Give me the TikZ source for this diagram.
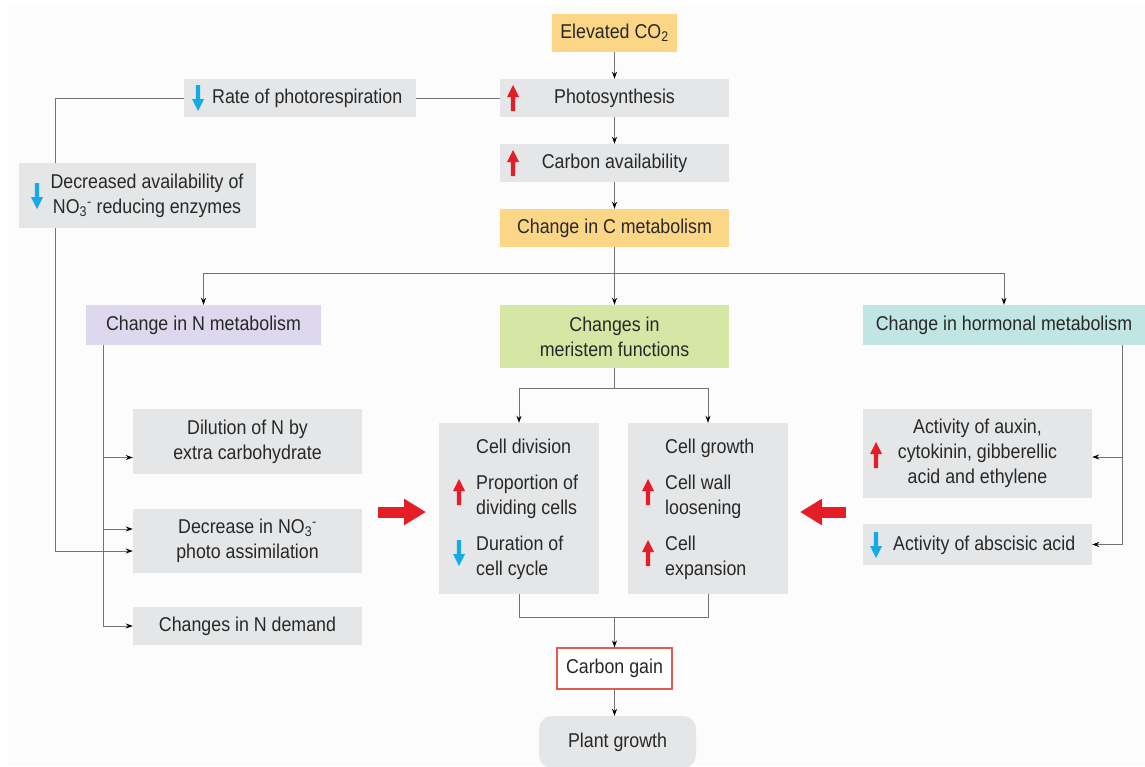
\documentclass[tikz,border=0pt]{standalone}
\usepackage{fontspec}
\setmainfont{Liberation Sans}[FakeStretch=0.89]
\usetikzlibrary{arrows.meta}
\definecolor{inkgray}{RGB}{40,40,40}
\definecolor{linegray}{RGB}{115,115,115}
\definecolor{boxgray}{RGB}{229,230,231}
\definecolor{boxorange}{RGB}{252,214,135}
\definecolor{boxlilac}{RGB}{222,216,238}
\definecolor{boxgreen}{RGB}{214,231,165}
\definecolor{boxteal}{RGB}{193,229,226}
\definecolor{gainred}{RGB}{228,90,78}
\definecolor{arrowred}{RGB}{228,30,38}
\definecolor{arrowblue}{RGB}{20,170,230}
\definecolor{paper}{RGB}{252,252,252}
\begin{document}
\begin{tikzpicture}[x=1pt, y=-1pt,
    font=\fontsize{20}{25}\selectfont,
    every node/.style={text=inkgray},
    box/.style={fill=boxgray, inner sep=0pt, align=center, minimum width=229pt, minimum height=38pt},
    conn/.style={draw=linegray, line width=0.9pt},
    arr/.style={conn, -{Stealth[length=7pt, width=5pt, color=black]}},
    bigarr/.style={draw=arrowred, line width=11pt, -{Triangle[length=22pt, width=25pt]}},
    uptick/.pic={\fill[arrowred] (-2.2,13) -- (-2.2,-1) -- (-6,-1) -- (0,-13) -- (6,-1) -- (2.2,-1) -- (2.2,13) -- cycle;},
    downtick/.pic={\fill[arrowblue] (-2.2,-13) -- (-2.2,1) -- (-6,1) -- (0,13) -- (6,1) -- (2.2,1) -- (2.2,-13) -- cycle;}]
\useasboundingbox (0,0) rectangle (1145,766);
\fill[white] (0,0) rectangle (1145,766);
\fill[paper] (8,5) rectangle (1145,766); %page
% main column
\node[box, fill=boxorange, minimum width=125pt] (co2) at (614.5,33) {Elevated CO\textsubscript{2}};
\node[box] (photo) at (614.5,98) {Photosynthesis};
\node[box] (carb) at (614.5,163) {Carbon availability};
\node[box, fill=boxorange] (cmet) at (614.5,228) {Change in C metabolism};
\pic at (513,98) {uptick};
\pic at (513,163) {uptick};
% photorespiration loop
\node[box, minimum width=232pt] (resp) at (300,98) {};
\node[anchor=west, inner sep=0pt] (respt) at (212,98) {Rate of photorespiration};
\pic at (198,98) {downtick};
\node[box, minimum width=237pt, minimum height=65pt] (nored) at (137.5,195.5) {};
\node[align=center, inner sep=0pt] (noredt) at (147,196) {Decreased availability of\\NO\textsubscript{3}\textsuperscript{-} reducing enzymes};
\pic at (37,196) {downtick};
% second row
\node[box, fill=boxlilac, minimum width=235pt, minimum height=40pt] (nmet) at (203.5,325) {Change in N metabolism};
\node[box, fill=boxgreen, minimum height=63pt] (meri) at (614.5,336.5) {Changes in\\meristem functions};
\node[box, fill=boxteal, minimum width=282pt, minimum height=40pt] (hmet) at (1004,325) {Change in hormonal metabolism};
% N metabolism
\node[box, minimum height=65pt] (dil) at (247.5,441.5) {Dilution of N by\\extra carbohydrate};
\node[box, minimum height=64pt] (dec) at (247.5,541) {Decrease in NO\textsubscript{3}\textsuperscript{-}\\photo assimilation};
\node[box] (ndem) at (247.5,626) {Changes in N demand};
% meristem
\node[box, minimum width=160pt, minimum height=171pt] (cdiv) at (519,508.5) {};
\node[box, minimum width=160pt, minimum height=171pt] (cgro) at (708,508.5) {};
\node[anchor=base west, inner sep=0pt] (cdivh) at (476,453) {Cell division};
\node[anchor=west, align=left, inner sep=0pt] (cdiva) at (476,497) {Proportion of\\dividing cells};
\node[anchor=west, align=left, inner sep=0pt] (cdivb) at (476,558) {Duration of\\cell cycle};
\node[anchor=base west, inner sep=0pt] (cgroh) at (665,453) {Cell growth};
\node[anchor=west, align=left, inner sep=0pt] (cgroa) at (665,497) {Cell wall\\loosening};
\node[anchor=west, align=left, inner sep=0pt] (cgrob) at (665,558) {Cell\\expansion};
\pic at (459,492) {uptick};
\pic at (459,553) {downtick};
\pic at (648,492) {uptick};
\pic at (648,553) {uptick};
% hormones
\node[box, minimum height=89pt] (aux) at (977.5,453.5) {Activity of auxin,\\cytokinin, gibberellic\\acid and ethylene};
\node[box, minimum height=41pt] (aba) at (977.5,544.5) {};
\node[anchor=west, inner sep=0pt] (abat) at (893,545) {Activity of abscisic acid};
\pic at (876,455) {uptick};
\pic at (876,545) {downtick};
% bottom
\node[box, fill=white, draw=gainred, line width=1.2pt, minimum width=115pt, minimum height=41pt] (cgain) at (614.5,668.5) {Carbon gain};
\node[box, rounded corners=13pt, minimum width=157pt, minimum height=52pt] (plant) at (617.5,742) {Plant growth};
% connectors
\draw[arr] (co2) -- (photo);
\draw[arr] (photo) -- (carb);
\draw[arr] (carb) -- (cmet);
\draw[conn] (resp) -- (photo);
\coordinate (lx) at (55,0);
\coordinate (deca) at ([yshift=12pt]dec.west);
\coordinate (decb) at ([yshift=-10pt]dec.west);
\coordinate (dila) at ([yshift=-16pt]dil.west);
\draw[conn] (resp.west) -| (lx |- nored.north);
\draw[arr] (lx |- nored.south) |- (decb);
\draw[conn] (cmet.south) -- ++(0,26) coordinate (cb);
\draw[arr] (cb) -| (nmet.north);
\draw[arr] (cb) -| (hmet.north);
\draw[arr] (cb) -- (meri.north);
\coordinate (nx) at (103,0); %N branch
\draw[conn] (nx |- nmet.south) -- (nx |- ndem.west);
\draw[arr] (nx |- dila) -- (dila);
\draw[arr] (nx |- deca) -- (deca);
\draw[arr] (nx |- ndem.west) -- (ndem.west);
\coordinate (hx) at (1122,0); %hormone branch
\coordinate (auxa) at ([yshift=-3.5pt]aux.east);
\draw[conn] (hx |- hmet.south) -- (hx |- aba.east);
\draw[arr] (hx |- auxa) -- (auxa);
\draw[arr] (hx |- aba.east) -- (aba.east);
\draw[conn] (meri.south) -- ++(0,20) coordinate (ms);
\draw[arr] (ms) -| (cdiv.north);
\draw[arr] (ms) -| (cgro.north);
\coordinate (mj) at (614.5,617);
\draw[conn] (cdiv.south) |- (mj) -| (cgro.south);
\draw[arr] (mj) -- (cgain);
\draw[arr] (cgain.south) -- (cgain.south |- plant.north);
% big arrows
\coordinate (ra) at (378,512);
\coordinate (rb) at (426,512);
\coordinate (la) at (846,512);
\coordinate (lb) at (800,512);
\draw[bigarr] (ra) -- (rb);
\draw[bigarr] (la) -- (lb);
\end{tikzpicture}
\end{document}
